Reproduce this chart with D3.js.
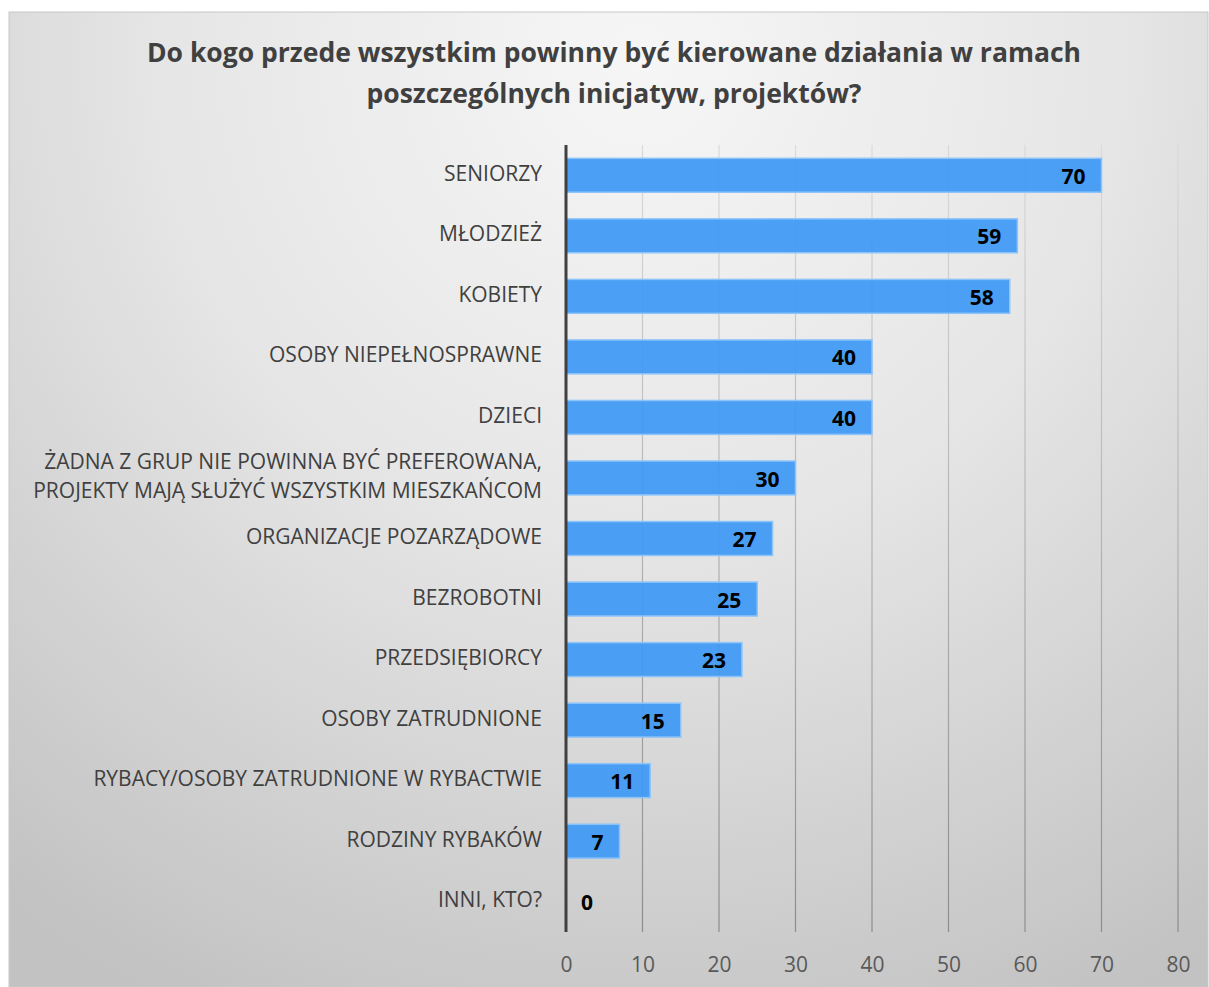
<!DOCTYPE html>
<html>
<head>
<meta charset="utf-8">
<script src="https://cdn.jsdelivr.net/npm/d3@7"></script>
<style>
  html, body { margin: 0; padding: 0; background: #ffffff; }
  svg { display: block; }
  text { font-family: "Open Sans", "Noto Sans", sans-serif; }
</style>
</head>
<body>
<svg id="chart" width="1209" height="987"></svg>
<script>
// Survey answers: target groups and number of responses
const categories = [
  "SENIORZY",
  "MŁODZIEŻ",
  "KOBIETY",
  "OSOBY NIEPEŁNOSPRAWNE",
  "DZIECI",
  "ŻADNA Z GRUP NIE POWINNA BYĆ PREFEROWANA,|PROJEKTY MAJĄ SŁUŻYĆ WSZYSTKIM MIESZKAŃCOM",
  "ORGANIZACJE POZARZĄDOWE",
  "BEZROBOTNI",
  "PRZEDSIĘBIORCY",
  "OSOBY ZATRUDNIONE",
  "RYBACY/OSOBY ZATRUDNIONE W RYBACTWIE",
  "RODZINY RYBAKÓW",
  "INNI, KTO?"
];
const values = [70, 59, 58, 40, 40, 30, 27, 25, 23, 15, 11, 7, 0];
const tickValues = [0, 10, 20, 30, 40, 50, 60, 70, 80];
const titleLines = [
  "Do kogo przede wszystkim powinny być kierowane działania w ramach",
  "poszczególnych inicjatyw, projektów?"
];

const svg = d3.select("#chart");
const frame = { x: 9, y: 12, w: 1199, h: 975 };
const plot = { left: 566, right: 1178, top: 145, bottom: 932 };

// Background gradient
const defs = svg.append("defs");
const bg = defs.append("radialGradient")
  .attr("id", "bgGrad")
  .attr("gradientUnits", "userSpaceOnUse")
  .attr("cx", 640).attr("cy", 60).attr("r", 1050);
bg.append("stop").attr("offset", "0%").attr("stop-color", "#f6f6f6");
bg.append("stop").attr("offset", "45%").attr("stop-color", "#e6e6e6");
bg.append("stop").attr("offset", "100%").attr("stop-color", "#c2c2c2");

const gridGrad = defs.append("linearGradient")
  .attr("id", "gridGrad")
  .attr("gradientUnits", "userSpaceOnUse")
  .attr("x1", 0).attr("y1", plot.top).attr("x2", 0).attr("y2", plot.bottom);
gridGrad.append("stop").attr("offset", "0%").attr("stop-color", "#dadada");
gridGrad.append("stop").attr("offset", "100%").attr("stop-color", "#8c8c8c");

svg.append("rect")
  .attr("x", frame.x).attr("y", frame.y)
  .attr("width", frame.w).attr("height", frame.h)
  .attr("fill", "url(#bgGrad)")
  .attr("stroke", "#c8c8c8").attr("stroke-width", 1);

// Scales
const x = d3.scaleLinear().domain([0, 80]).range([plot.left, plot.right]);
const y = d3.scaleBand().domain(categories).range([plot.top, plot.bottom]).paddingInner(0.44).paddingOuter(0.22);

// Vertical gridlines
svg.append("g")
  .selectAll("line")
  .data(tickValues.slice(1))
  .join("line")
  .attr("x1", d => x(d)).attr("x2", d => x(d))
  .attr("y1", plot.top).attr("y2", plot.bottom)
  .attr("stroke", "url(#gridGrad)")
  .attr("stroke-width", 1.2);

// Bars
svg.append("g")
  .selectAll("rect")
  .data(values)
  .join("rect")
  .attr("x", x(0))
  .attr("y", (d, i) => y(categories[i]))
  .attr("width", d => x(d) - x(0))
  .attr("height", y.bandwidth())
  .attr("fill", "#3d98f4")
  .attr("fill-opacity", 0.92)
  .attr("stroke", "#8cc4fa")
  .attr("stroke-width", d => d > 0 ? 1.5 : 0);

// Value labels
svg.append("g")
  .selectAll("text")
  .data(values)
  .join("text")
  .attr("x", d => Math.max(x(d) - 16, x(0) + 27))
  .attr("y", (d, i) => y(categories[i]) + y.bandwidth() / 2 + 1)
  .attr("dy", "0.36em")
  .attr("text-anchor", "end")
  .attr("font-size", 21)
  .attr("font-weight", 700)
  .attr("fill", "#000000")
  .text(d => d);

// Category axis line
svg.append("line")
  .attr("x1", x(0)).attr("x2", x(0))
  .attr("y1", plot.top).attr("y2", plot.bottom)
  .attr("stroke", "#404040").attr("stroke-width", 3);

// Category labels
const catG = svg.append("g");
categories.forEach(c => {
  const lines = c.split("|");
  const cy = y(c) + y.bandwidth() / 2 - 2;
  const lh = 29;
  const t = catG.append("text")
    .attr("x", 542)
    .attr("text-anchor", "end")
    .attr("font-size", 21)
    .attr("fill", "#404040");
  lines.forEach((ln, k) => {
    t.append("tspan")
      .attr("x", 542)
      .attr("y", cy + (k - (lines.length - 1) / 2) * lh)
      .attr("dy", "0.36em")
      .text(ln);
  });
});

// Value axis tick labels
const xAxis = d3.axisBottom(x).tickValues(tickValues).tickSize(0).tickPadding(0);
const axG = svg.append("g")
  .attr("transform", `translate(0, ${plot.bottom})`)
  .call(xAxis);
axG.select(".domain").remove();
axG.selectAll("text")
  .attr("y", 32)
  .attr("dy", "0.36em")
  .attr("font-size", 21)
  .attr("font-family", "\"Open Sans\", sans-serif")
  .attr("fill", "#595959");

// Title
svg.append("g")
  .selectAll("text")
  .data(titleLines)
  .join("text")
  .attr("x", 614)
  .attr("y", (d, i) => 52 + i * 41)
  .attr("dy", "0.36em")
  .attr("text-anchor", "middle")
  .attr("font-size", 26.5)
  .attr("font-weight", 700)
  .attr("fill", "#404040")
  .text(d => d);
</script>
</body>
</html>
